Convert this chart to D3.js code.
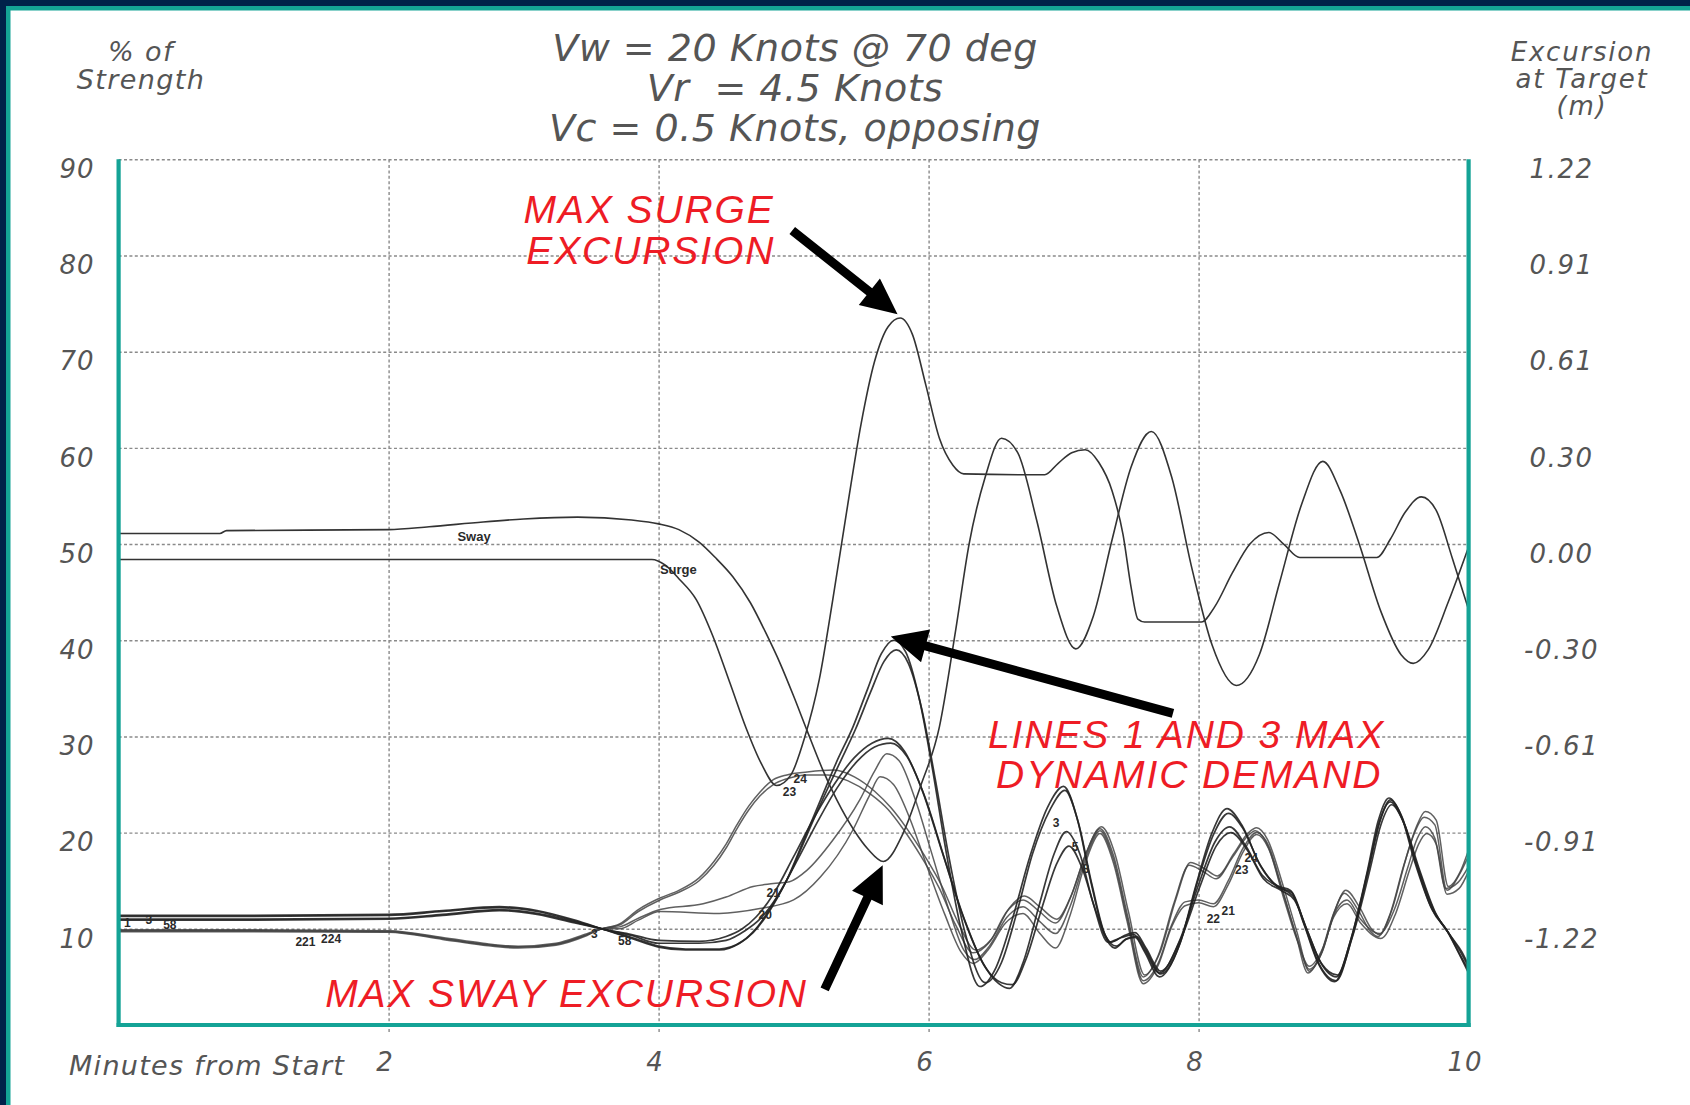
<!DOCTYPE html>
<html>
<head>
<meta charset="utf-8">
<script src="https://cdn.jsdelivr.net/npm/d3@7"></script>
<style>
  html, body { margin: 0; padding: 0; background: #ffffff; }
  svg { display: block; }
</style>
</head>
<body>
<svg id="chart" width="1690" height="1105"></svg>
<script>
// ---------------- text ----------------
const titleLines = ["Vw = 20 Knots @ 70 deg", "Vr  = 4.5 Knots", "Vc = 0.5 Knots, opposing"];
const leftTitle = ["% of", "Strength"];
const rightTitle = ["Excursion", "at Target", "(m)"];
const xTitle = "Minutes from Start";

// ---------------- axes ----------------
const strengthTicks = [10, 20, 30, 40, 50, 60, 70, 80, 90];
const excursionLabels = ["-1.22", "-0.91", "-0.61", "-0.30", "0.00", "0.30", "0.61", "0.91", "1.22"];
const minuteTicks = [2, 4, 6, 8, 10];
const minuteGrid = [2, 4, 6, 8];

// ---------------- vessel excursions (plotted on the % scale) ----------------
const surge = [[0,48.4],[3.95,48.4],[4.05,47.8],[4.15,46.4],[4.28,44.2],[4.4,40.5],[4.53,35.5],[4.65,30.8],[4.76,27.2],[4.875,24.9],[4.98,26.0],[5.08,29.8],[5.19,35.9],[5.29,44.2],[5.4,54.0],[5.5,62.5],[5.6,69.0],[5.7,72.6],[5.79,73.5],[5.88,71.8],[5.98,66.5],[6.08,61.0],[6.18,58.2],[6.26,57.3],[6.86,57.2],[6.96,58.4],[7.06,59.5],[7.16,59.8],[7.26,58.5],[7.36,55.5],[7.44,51.0],[7.5,45.5],[7.55,42.2],[7.6,41.9],[8.02,41.9],[8.12,43.5],[8.25,47.0],[8.38,50.0],[8.52,51.2],[8.63,50.0],[8.75,48.6],[9.32,48.6],[9.42,50.5],[9.53,53.3],[9.65,54.9],[9.76,53.5],[9.88,48.5],[10.0,43.2]];
const sway = [[0,51.1],[0.75,51.1],[0.8,51.4],[2.0,51.5],[2.3,51.8],[2.7,52.3],[3.0,52.6],[3.4,52.8],[3.8,52.5],[4.0,52.1],[4.15,51.5],[4.3,50.2],[4.42,48.6],[4.55,46.6],[4.68,43.9],[4.8,40.6],[4.9,37.6],[5.0,34.2],[5.1,30.6],[5.22,26.4],[5.32,23.4],[5.45,20.2],[5.55,18.3],[5.665,17.0],[5.81,19.9],[5.94,24.8],[6.08,31.0],[6.2,41.0],[6.3,50.0],[6.42,57.0],[6.54,61.0],[6.66,59.5],[6.8,52.5],[6.95,43.5],[7.09,39.1],[7.22,42.5],[7.36,50.5],[7.5,58.0],[7.65,61.7],[7.8,57.0],[7.95,47.5],[8.1,39.5],[8.28,35.3],[8.45,38.5],[8.6,46.0],[8.76,54.0],[8.92,58.6],[9.05,55.5],[9.19,50.0],[9.35,43.0],[9.5,38.5],[9.59,37.6],[9.7,39.0],[9.85,44.0],[10.0,49.7]];

// ---------------- mooring line tensions (% of strength) ----------------
const line1 = [[0,11.4],[1.0,11.4],[2.0,11.5],[2.4,11.9],[2.82,12.3],[3.1,11.9],[3.38,10.9],[3.58,10.0],[3.8,9.0],[4.0,8.1],[4.2,7.8],[4.45,7.8],[4.6,8.5],[4.7,9.6],[4.82,11.8],[4.95,15.1],[5.08,19.4],[5.2,23.4],[5.32,27.4],[5.44,31.0],[5.55,35.0],[5.65,38.6],[5.74,40.0],[5.83,38.8],[5.93,34.0],[6.03,26.5],[6.13,18.0],[6.24,10.0],[6.38,4.0],[6.5,6.0],[6.62,11.0],[6.75,17.5],[6.88,22.6],[7.0,24.8],[7.1,21.5],[7.2,15.0],[7.3,9.5],[7.38,8.0],[7.46,8.9],[7.53,9.1],[7.6,7.6],[7.71,5.0],[7.86,8.4],[7.98,14.5],[8.1,20.0],[8.21,22.5],[8.32,20.8],[8.45,16.8],[8.58,14.5],[8.68,14.0],[8.78,10.5],[8.88,6.6],[9.01,4.5],[9.12,8.5],[9.25,16.0],[9.33,21.2],[9.41,23.6],[9.5,21.8],[9.6,17.0],[9.72,12.3],[9.84,9.8],[9.93,7.4],[10.0,5.4]];
const line3 = [[0,11.3],[1.0,11.3],[2.0,11.4],[2.4,11.8],[2.82,12.2],[3.1,11.8],[3.38,10.8],[3.58,10.0],[3.8,9.1],[4.0,8.2],[4.2,7.9],[4.45,7.9],[4.62,8.7],[4.72,10.0],[4.84,12.4],[4.97,15.6],[5.1,19.8],[5.22,23.6],[5.34,27.2],[5.46,30.8],[5.57,34.6],[5.67,37.8],[5.76,39.0],[5.85,37.6],[5.95,32.8],[6.05,25.5],[6.15,17.5],[6.27,9.6],[6.42,4.4],[6.54,6.5],[6.65,11.5],[6.77,17.8],[6.9,22.4],[7.01,24.4],[7.11,21.0],[7.21,14.6],[7.31,9.3],[7.39,8.2],[7.47,9.0],[7.54,9.2],[7.61,7.8],[7.72,5.3],[7.87,8.8],[7.99,14.8],[8.11,19.8],[8.22,22.0],[8.33,20.4],[8.46,16.5],[8.59,14.3],[8.69,13.8],[8.79,10.2],[8.89,6.4],[9.02,4.6],[9.13,8.8],[9.26,16.2],[9.34,21.0],[9.42,23.4],[9.51,21.5],[9.61,16.8],[9.73,12.0],[9.85,9.6],[9.94,7.2],[10.0,5.7]];
const line5 = [[0,11.0],[1.0,11.0],[2.0,11.1],[2.4,11.5],[2.82,12.0],[3.1,11.6],[3.38,10.7],[3.58,10.0],[3.8,9.4],[4.0,8.8],[4.3,8.7],[4.5,9.2],[4.62,10.0],[4.72,11.2],[4.85,13.6],[5.0,17.5],[5.15,21.5],[5.3,25.0],[5.45,27.8],[5.58,29.3],[5.7,29.8],[5.82,28.5],[5.95,24.5],[6.1,18.0],[6.25,11.5],[6.4,6.5],[6.52,4.3],[6.6,3.8],[6.7,6.5],[6.82,12.5],[6.93,17.8],[7.02,20.1],[7.12,17.8],[7.22,12.6],[7.33,8.6],[7.43,9.1],[7.52,9.4],[7.6,7.8],[7.71,5.4],[7.86,8.8],[8.0,14.6],[8.12,19.0],[8.23,20.6],[8.35,18.6],[8.47,15.6],[8.6,14.3],[8.7,13.4],[8.8,10.0],[8.9,6.6],[9.02,5.0],[9.13,9.0],[9.26,16.4],[9.34,21.2],[9.42,23.2],[9.52,21.0],[9.62,16.6],[9.74,12.0],[9.86,9.4],[9.94,7.6],[10.0,6.0]];
const line8 = [[0,10.9],[1.0,10.9],[2.0,11.0],[2.4,11.4],[2.82,11.9],[3.1,11.5],[3.38,10.6],[3.58,10.0],[3.8,9.3],[4.0,8.5],[4.3,8.5],[4.5,8.8],[4.64,9.8],[4.75,11.0],[4.88,13.4],[5.03,17.2],[5.18,21.2],[5.32,24.6],[5.47,27.4],[5.6,28.9],[5.72,29.3],[5.84,27.9],[5.97,23.8],[6.12,17.2],[6.27,10.8],[6.42,6.0],[6.54,4.4],[6.62,4.2],[6.72,6.8],[6.84,12.2],[6.95,16.8],[7.04,18.6],[7.14,16.2],[7.24,11.8],[7.35,8.6],[7.45,9.3],[7.53,9.6],[7.61,8.0],[7.72,5.6],[7.87,9.0],[8.01,14.4],[8.13,18.6],[8.24,20.0],[8.36,18.2],[8.48,15.2],[8.61,14.0],[8.71,13.0],[8.81,9.6],[8.91,6.4],[9.03,5.2],[9.14,9.2],[9.27,16.2],[9.35,20.8],[9.43,22.9],[9.53,20.7],[9.63,16.4],[9.75,11.8],[9.87,9.2],[9.95,7.6],[10.0,6.2]];
const line21 = [[0,9.8],[1.0,9.8],[2.0,9.75],[2.4,9.0],[2.7,8.4],[2.96,8.1],[3.24,8.4],[3.47,9.4],[3.58,10.0],[3.71,10.2],[3.85,11.1],[4.01,12.0],[4.33,12.6],[4.5,13.3],[4.7,14.4],[4.85,14.7],[4.97,14.9],[5.1,16.1],[5.29,19.2],[5.49,23.4],[5.6,26.4],[5.69,28.2],[5.78,27.5],[5.9,23.5],[6.02,18.0],[6.15,12.0],[6.26,7.8],[6.34,6.8],[6.45,8.2],[6.58,11.2],[6.7,12.3],[6.82,10.8],[6.94,9.5],[7.05,12.4],[7.16,17.2],[7.27,20.2],[7.37,17.2],[7.47,11.2],[7.59,4.6],[7.7,6.4],[7.8,10.4],[7.9,12.8],[8.0,13.0],[8.11,12.6],[8.22,15.0],[8.33,18.4],[8.43,20.0],[8.52,18.6],[8.63,13.6],[8.73,9.0],[8.82,5.8],[8.92,7.8],[9.0,11.4],[9.1,13.0],[9.2,11.0],[9.34,9.5],[9.45,12.0],[9.55,16.4],[9.62,19.4],[9.68,20.6],[9.75,19.4],[9.83,14.2],[9.92,14.8],[10.0,16.5]];
const line22 = [[0,9.7],[1.0,9.7],[2.0,9.65],[2.4,8.9],[2.7,8.3],[2.96,8.0],[3.24,8.3],[3.47,9.3],[3.58,10.0],[3.71,10.0],[3.85,10.9],[4.01,11.8],[4.45,11.6],[4.75,12.1],[5.0,13.0],[5.2,15.4],[5.44,20.3],[5.56,23.8],[5.64,25.8],[5.74,25.0],[5.86,21.5],[5.98,16.8],[6.12,11.5],[6.24,7.6],[6.33,6.4],[6.44,7.8],[6.57,10.6],[6.7,11.6],[6.82,9.6],[6.94,8.0],[7.05,11.5],[7.16,16.8],[7.27,19.9],[7.37,16.8],[7.47,10.8],[7.59,4.3],[7.7,6.2],[7.8,10.2],[7.9,12.4],[8.0,12.7],[8.11,12.3],[8.22,14.6],[8.33,18.0],[8.43,19.8],[8.52,18.3],[8.63,13.2],[8.73,8.8],[8.82,6.1],[8.92,8.0],[9.0,11.2],[9.1,12.6],[9.2,10.6],[9.35,9.0],[9.46,11.6],[9.56,16.0],[9.63,18.8],[9.69,19.9],[9.76,18.8],[9.84,13.6],[9.93,14.2],[10.0,16.0]];
const line23 = [[0,9.8],[1.0,9.8],[2.0,9.7],[2.4,9.0],[2.7,8.4],[2.96,8.1],[3.24,8.4],[3.47,9.4],[3.58,10.0],[3.71,10.4],[3.85,11.8],[4.01,13.0],[4.15,13.8],[4.3,15.0],[4.41,16.6],[4.5,18.4],[4.58,20.4],[4.67,22.4],[4.75,23.8],[4.85,25.0],[4.95,25.6],[5.1,26.0],[5.25,26.0],[5.4,25.4],[5.57,24.0],[5.7,22.4],[5.81,20.4],[5.95,17.4],[6.08,14.2],[6.2,10.4],[6.33,7.5],[6.45,8.6],[6.58,11.8],[6.7,13.0],[6.82,11.8],[6.94,10.6],[7.05,13.2],[7.16,17.6],[7.27,20.4],[7.37,17.6],[7.47,11.6],[7.59,5.0],[7.7,7.2],[7.82,12.8],[7.93,16.6],[8.03,16.0],[8.13,15.2],[8.25,17.4],[8.36,19.6],[8.42,20.2],[8.5,19.0],[8.62,14.0],[8.72,9.4],[8.81,5.4],[8.9,7.2],[9.0,11.6],[9.08,13.7],[9.18,12.0],[9.27,9.8],[9.33,9.2],[9.42,11.6],[9.52,16.6],[9.6,20.0],[9.67,21.6],[9.75,20.8],[9.84,14.0],[9.93,15.6],[10.0,17.6]];
const line24 = [[0,9.9],[1.0,9.9],[2.0,9.8],[2.4,9.1],[2.7,8.5],[2.96,8.2],[3.24,8.5],[3.47,9.5],[3.58,10.0],[3.71,10.5],[3.85,12.0],[4.01,13.2],[4.15,14.0],[4.3,15.3],[4.41,17.0],[4.5,18.8],[4.58,20.8],[4.67,22.8],[4.75,24.2],[4.85,25.5],[4.95,26.0],[5.1,26.3],[5.3,26.5],[5.45,25.8],[5.6,24.3],[5.72,22.6],[5.83,20.6],[5.97,17.6],[6.1,14.4],[6.22,10.6],[6.35,7.8],[6.47,9.0],[6.6,12.2],[6.71,13.4],[6.83,12.2],[6.95,11.0],[7.06,13.6],[7.17,18.0],[7.28,20.6],[7.38,17.8],[7.48,11.8],[7.6,5.2],[7.71,7.4],[7.83,13.0],[7.94,16.9],[8.04,16.3],[8.14,15.5],[8.26,17.8],[8.37,20.0],[8.43,20.5],[8.51,19.3],[8.63,14.3],[8.73,9.6],[8.82,5.6],[8.91,7.4],[9.01,11.9],[9.09,14.0],[9.19,12.3],[9.28,10.0],[9.34,9.4],[9.43,11.9],[9.53,17.0],[9.61,20.5],[9.68,22.2],[9.76,21.3],[9.85,14.4],[9.94,16.0],[10.0,18.2]];

// small tags written along the traces: text, minute, % value
const traceTagText = ["Sway", "Surge", "1", "3", "58", "221", "224", "3", "58", "24", "23", "21", "20", "3", "5", "8", "24", "23", "22", "21"];
const traceTagAt = [[2.51,50.3],[4.01,46.9],[0.04,10.2],[0.2,10.5],[0.33,10.0],[1.31,8.2],[1.5,8.5],[3.5,9.0],[3.7,8.3],[5.0,25.2],[4.92,23.8],[4.8,13.3],[4.74,11.0],[6.92,20.6],[7.06,18.1],[7.14,15.8],[8.34,16.9],[8.27,15.7],[8.06,10.6],[8.17,11.4]];

// red call-outs: blocks of lines and the anchor (minute, % value) of each line
const calloutBlocks = [["MAX SURGE", "EXCURSION"], ["LINES 1 AND 3 MAX", "DYNAMIC DEMAND"], ["MAX SWAY EXCURSION"]];
const calloutAt = [[[3.0,83.4],[3.02,79.1]], [[6.44,28.8],[6.5,24.6]], [[1.53,1.9]]];
// arrows: from (minute, value) to (minute, value)
const arrowFrom = [[4.99,82.6],[7.81,32.4],[5.23,3.7]];
const arrowTo = [[5.77,73.9],[5.72,40.4],[5.66,16.6]];

// ---------------- drawing ----------------
const W = 1690, H = 1105;
const svg = d3.select("#chart");
const plotLeft = 118.6, plotRight = 1468.6, plotTop = 159.3, plotBottom = 1025;

const x = d3.scaleLinear().domain([0, 10]).range([plotLeft, plotRight]);
const y = d3.scaleLinear().domain([0, 90]).range([plotBottom, plotTop]);

const navy = "#00214a", teal = "#14a396", greyText = "#555555";
const labelFont = "'DejaVu Sans', Verdana, sans-serif";

// page frame
svg.append("rect").attr("x", 0).attr("y", 0).attr("width", W).attr("height", H).attr("fill", "#fff");
svg.append("rect").attr("x", 0).attr("y", 0).attr("width", W).attr("height", 6).attr("fill", navy);
svg.append("rect").attr("x", 0).attr("y", 0).attr("width", 6).attr("height", H).attr("fill", navy);
svg.append("rect").attr("x", 6).attr("y", 6).attr("width", W - 6).attr("height", 4.5).attr("fill", teal);
svg.append("rect").attr("x", 6).attr("y", 6).attr("width", 4.5).attr("height", H - 6).attr("fill", teal);

// grid
const grid = svg.append("g").attr("class", "grid");
grid.append("g")
  .attr("transform", `translate(${plotLeft},0)`)
  .call(d3.axisLeft(y).tickValues(strengthTicks).tickSize(-(plotRight - plotLeft)).tickFormat(""))
  .call(g => g.select(".domain").remove())
  .call(g => g.selectAll("line").attr("stroke", "#8a8a8a").attr("stroke-width", 1.4).attr("stroke-dasharray", "3,2.4"));
grid.append("g")
  .attr("transform", `translate(0,${plotBottom + 7})`)
  .call(d3.axisBottom(x).tickValues(minuteGrid).tickSize(-(plotBottom + 7 - plotTop)).tickFormat(""))
  .call(g => g.select(".domain").remove())
  .call(g => g.selectAll("line").attr("stroke", "#8a8a8a").attr("stroke-width", 1.4).attr("stroke-dasharray", "3,2.4"));

// traces
const lineGen = d3.line().x(d => x(d[0])).y(d => y(d[1])).curve(d3.curveMonotoneX);
const traces = svg.append("g").attr("fill", "none").attr("stroke-linejoin", "round").attr("stroke-linecap", "round");
const groupQ = [line21, line22, line23, line24];
const groupP = [line1, line3, line5, line8];
groupQ.forEach(s => traces.append("path").attr("d", lineGen(s)).attr("stroke", "#444").attr("stroke-width", 1.5).attr("stroke-opacity", 0.85));
groupP.forEach(s => traces.append("path").attr("d", lineGen(s)).attr("stroke", "#222").attr("stroke-width", 1.7).attr("stroke-opacity", 0.9));
[surge, sway].forEach(s => traces.append("path").attr("d", lineGen(s)).attr("stroke", "#333").attr("stroke-width", 1.6));

// tags on traces
svg.append("g").selectAll("text").data(traceTagText).join("text")
  .attr("x", (d, i) => x(traceTagAt[i][0]))
  .attr("y", (d, i) => y(traceTagAt[i][1]))
  .attr("font-family", "'Liberation Sans', Arial, sans-serif")
  .attr("font-size", (d, i) => i < 2 ? 13 : 12)
  .attr("font-weight", "bold")
  .attr("fill", "#2a2a2a")
  .text(d => d);

// plot frame (teal)
const frame = svg.append("g").attr("stroke", teal).attr("stroke-width", 4.2).attr("fill", "none");
frame.append("line").attr("x1", plotLeft).attr("x2", plotLeft).attr("y1", plotTop).attr("y2", plotBottom + 2);
frame.append("line").attr("x1", plotRight).attr("x2", plotRight).attr("y1", plotTop).attr("y2", plotBottom + 2);
frame.append("line").attr("x1", plotLeft - 2).attr("x2", plotRight + 2).attr("y1", plotBottom).attr("y2", plotBottom);

// left tick labels
svg.append("g")
  .attr("transform", `translate(${plotLeft},0)`)
  .call(d3.axisLeft(y).tickValues(strengthTicks).tickSize(0).tickPadding(24))
  .call(g => g.select(".domain").remove())
  .call(g => g.selectAll("text").attr("dy", "0.7em").attr("font-family", labelFont)
    .attr("font-style", "italic").attr("font-size", 26).attr("letter-spacing", 1).attr("fill", greyText));

// right tick labels (excursion, m)
svg.append("g")
  .attr("transform", `translate(${plotRight},0)`)
  .call(d3.axisRight(y).tickValues(strengthTicks).tickSize(0).tickPadding(0)
    .tickFormat(d => excursionLabels[strengthTicks.indexOf(d)]))
  .call(g => g.select(".domain").remove())
  .call(g => g.selectAll("text").attr("x", 93).attr("dy", "0.7em").attr("text-anchor", "middle")
    .attr("font-family", labelFont).attr("font-style", "italic").attr("font-size", 26)
    .attr("letter-spacing", 1.6).attr("fill", greyText));

// bottom tick labels
svg.append("g")
  .attr("transform", `translate(0,${plotBottom})`)
  .call(d3.axisBottom(x).tickValues(minuteTicks).tickSize(0))
  .call(g => g.select(".domain").remove())
  .call(g => g.selectAll("text").attr("y", 46).attr("dy", 0).attr("dx", -4)
    .attr("font-family", labelFont).attr("font-style", "italic").attr("font-size", 26)
    .attr("letter-spacing", 1).attr("fill", greyText));

// axis titles (each block is one text element with one tspan per line)
function textBlock(lines, cx, baselines, size, spacing, fill) {
  const t = svg.append("text")
    .attr("text-anchor", "middle")
    .attr("font-family", labelFont).attr("font-style", "italic")
    .attr("font-size", size).attr("letter-spacing", spacing).attr("fill", fill)
    .style("white-space", "pre");
  lines.forEach((s, i) => t.append("tspan").attr("x", cx).attr("y", baselines[i]).text(s));
  return t;
}
svg.append("text").attr("x", 69).attr("y", 1075)
  .attr("font-family", labelFont).attr("font-style", "italic").attr("font-size", 27)
  .attr("letter-spacing", 1.3).attr("fill", greyText)
  .text(xTitle);
textBlock(leftTitle, 141, [61, 89], 27, 1.4, greyText);
textBlock(rightTitle, 1582, [61, 88, 115], 26, 1.8, greyText);

// chart title
textBlock(titleLines, 795, [61, 101, 141], 38, 0.5, "#555555");

// arrows
const arrows = svg.append("g").attr("fill", "#000");
arrowFrom.forEach((a, i) => {
  const x0 = x(a[0]), y0 = y(a[1]), x1 = x(arrowTo[i][0]), y1 = y(arrowTo[i][1]);
  const dx = x1 - x0, dy = y1 - y0, len = Math.hypot(dx, dy);
  const ux = dx / len, uy = dy / len, nx = -uy, ny = ux;
  const headL = 36, headW = 17, shaftW = 4.5;
  const bx = x1 - ux * headL, by = y1 - uy * headL;
  const pts = [
    [x0 + nx * shaftW, y0 + ny * shaftW],
    [bx + nx * shaftW, by + ny * shaftW],
    [bx + nx * headW, by + ny * headW],
    [x1, y1],
    [bx - nx * headW, by - ny * headW],
    [bx - nx * shaftW, by - ny * shaftW],
    [x0 - nx * shaftW, y0 - ny * shaftW]
  ];
  arrows.append("path").attr("d", "M" + pts.map(p => p.join(",")).join("L") + "Z");
});

// red call-outs
calloutBlocks.forEach((lines, b) => {
  const t = svg.append("text")
    .attr("font-family", "'Liberation Sans', Arial, sans-serif")
    .attr("font-style", "italic").attr("font-size", 39).attr("letter-spacing", 1.9)
    .attr("fill", "#ee1c25");
  lines.forEach((s, i) => t.append("tspan")
    .attr("x", x(calloutAt[b][i][0]))
    .attr("y", y(calloutAt[b][i][1]))
    .text(s));
});
</script>
</body>
</html>
